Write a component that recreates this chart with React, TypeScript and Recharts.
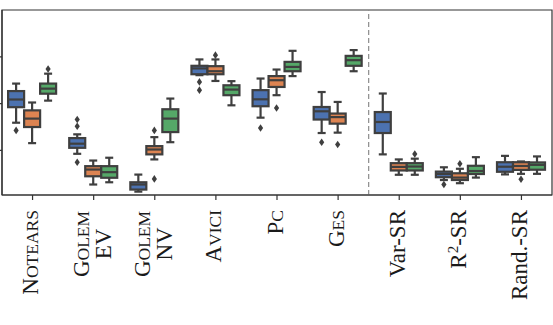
import { Bar, ComposedChart, ReferenceArea, ReferenceLine, XAxis, YAxis } from "recharts";

const methods = [
  "NOTEARS",
  "GOLEM\nEV",
  "GOLEM\nNV",
  "AVICI",
  "PC",
  "GES",
  "Var-SR",
  "R^2-SR",
  "Rand.-SR",
];

// each box: [lower whisker, q1, median, q3, upper whisker]
type Box = [number, number, number, number, number];

const blueBoxes: Box[] = [
  [0.398, 0.481, 0.522, 0.567, 0.607],
  [0.232, 0.264, 0.286, 0.316, 0.336],
  [0.03, 0.041, 0.068, 0.08, 0.121],
  [0.652, 0.657, 0.688, 0.702, 0.736],
  [0.425, 0.486, 0.523, 0.572, 0.634],
  [0.343, 0.415, 0.459, 0.482, 0.562],
  [0.229, 0.343, 0.402, 0.455, 0.554],
  [0.092, 0.107, 0.124, 0.137, 0.16],
  [0.122, 0.136, 0.163, 0.187, 0.221],
];
const blueOutliers = [[0.357], [0.415, 0.379, 0.187], [], [0.616, 0.572], [0.37], [0.294], [], [0.068], []];

const orangeBoxes: Box[] = [
  [0.289, 0.375, 0.42, 0.464, 0.506],
  [0.068, 0.112, 0.148, 0.166, 0.196],
  [0.202, 0.229, 0.255, 0.273, 0.321],
  [0.621, 0.657, 0.673, 0.7, 0.736],
  [0.545, 0.589, 0.625, 0.647, 0.682],
  [0.345, 0.393, 0.428, 0.447, 0.509],
  [0.12, 0.143, 0.162, 0.182, 0.202],
  [0.075, 0.092, 0.105, 0.128, 0.152],
  [0.125, 0.146, 0.167, 0.187, 0.191],
];
const orangeOutliers = [[], [], [0.357, 0.098], [0.759], [0.477], [0.282], [], [0.179], [0.096]];

const greenBoxes: Box[] = [
  [0.516, 0.553, 0.58, 0.607, 0.66],
  [0.08, 0.104, 0.134, 0.166, 0.211],
  [0.294, 0.348, 0.42, 0.47, 0.527],
  [0.491, 0.545, 0.575, 0.598, 0.62],
  [0.647, 0.673, 0.696, 0.723, 0.782],
  [0.673, 0.702, 0.732, 0.755, 0.786],
  [0.12, 0.143, 0.164, 0.182, 0.206],
  [0.105, 0.124, 0.14, 0.168, 0.214],
  [0.125, 0.147, 0.173, 0.186, 0.218],
];
const greenOutliers = [[0.685], [], [], [], [], [], [0.231], [], []];

const yTicks = [0.25, 0.5, 0.75];
const yDomain: [number, number] = [0.012, 1.0];

const LINE = "#3f3f3f";
const FRAME = "#333";
const FONT = "'Liberation Serif', 'DejaVu Serif', serif";
const smallCaps = new Set(["NOTEARS", "GOLEM", "AVICI", "PC", "GES"]);

const data = methods.map((name, i) => ({
  name,
  blue: [blueBoxes[i][0], blueBoxes[i][4]],
  orange: [orangeBoxes[i][0], orangeBoxes[i][4]],
  green: [greenBoxes[i][0], greenBoxes[i][4]],
}));

function makeBoxShape(boxes: Box[], outliers: number[][], fill: string) {
  return (props: any) => {
    const { x, y, width, height, index } = props;
    const [lo, q1, med, q3, hi] = boxes[index];
    // pixel position of a value, from the bar the library placed for [lo, hi]
    const k = height / (hi - lo);
    const py = (v: number) => y + (hi - v) * k;
    const cx = x + width / 2;
    const cap = width / 4;
    const sw = 2.2;
    return (
      <g>
        <line x1={cx} x2={cx} y1={py(hi)} y2={py(q3)} stroke={LINE} strokeWidth={sw} />
        <line x1={cx} x2={cx} y1={py(q1)} y2={py(lo)} stroke={LINE} strokeWidth={sw} />
        <line x1={cx - cap} x2={cx + cap} y1={py(hi)} y2={py(hi)} stroke={LINE} strokeWidth={sw} />
        <line x1={cx - cap} x2={cx + cap} y1={py(lo)} y2={py(lo)} stroke={LINE} strokeWidth={sw} />
        <rect x={x} y={py(q3)} width={width} height={py(q1) - py(q3)} fill={fill} stroke={LINE} strokeWidth={sw} />
        <line x1={x} x2={x + width} y1={py(med)} y2={py(med)} stroke={LINE} strokeWidth={sw} />
        {outliers[index].map((o, j) => {
          const oy = py(o);
          return (
            <path
              key={j}
              d={`M${cx},${oy - 3.8}L${cx + 2.6},${oy}L${cx},${oy + 3.8}L${cx - 2.6},${oy}Z`}
              fill={LINE}
            />
          );
        })}
      </g>
    );
  };
}

function renderWord(word: string, key: number) {
  if (smallCaps.has(word)) {
    return [
      <tspan key={`${key}a`} fontSize={23}>{word[0]}</tspan>,
      <tspan key={`${key}b`} fontSize={17.5}>{word.slice(1)}</tspan>,
    ];
  }
  if (word.includes("^")) {
    const [base, rest] = word.split("^");
    return [
      <tspan key={`${key}a`}>{base}</tspan>,
      <tspan key={`${key}b`} fontSize={15} dy={-8}>{rest[0]}</tspan>,
      <tspan key={`${key}c`} dy={8}>{rest.slice(1)}</tspan>,
    ];
  }
  return [<tspan key={`${key}a`}>{word}</tspan>];
}

function MethodTick({ x, y, payload }: any) {
  const lines: string[] = String(payload.value).split("\n");
  const top = y + 8;
  const style = { fontFamily: FONT, fontSize: 23, fill: "#1a1a1a" };
  if (lines.length === 1) {
    return (
      <text transform={`translate(${x + 5.5},${top}) rotate(-90)`} textAnchor="end" {...style}>
        {renderWord(lines[0], 0)}
      </text>
    );
  }
  const mid = top + 34;
  return (
    <g>
      {lines.map((line, i) => (
        <text
          key={i}
          transform={`translate(${x - 5 + 22 * i},${mid}) rotate(-90)`}
          textAnchor="middle"
          {...style}
        >
          {renderWord(line, i)}
        </text>
      ))}
    </g>
  );
}

export default function App() {
  return (
    <div style={{ width: 553, height: 325, background: "#fff" }}>
      <style>{`body{margin:0}`}</style>
      <ComposedChart
        width={553}
        height={325}
        data={data}
        margin={{ top: 10, right: 1, left: 0, bottom: 0 }}
        barCategoryGap="10%"
        barGap={0}
      >
        <XAxis
          dataKey="name"
          type="category"
          height={130}
          interval={0}
          tickSize={5}
          tickMargin={2}
          tick={<MethodTick />}
          axisLine={{ stroke: FRAME, strokeWidth: 1.2 }}
          tickLine={{ stroke: FRAME, strokeWidth: 1.2 }}
        />
        <YAxis
          type="number"
          domain={yDomain}
          ticks={yTicks}
          width={2}
          tickSize={6}
          tickFormatter={() => ""}
          allowDataOverflow
          axisLine={{ stroke: FRAME, strokeWidth: 1.2 }}
          tickLine={{ stroke: FRAME, strokeWidth: 1.2 }}
        />
        <ReferenceArea
          y1={yDomain[0]}
          y2={yDomain[1]}
          fill="none"
          fillOpacity={0}
          stroke={FRAME}
          strokeWidth={1.2}
          ifOverflow="extendDomain"
        />
        <ReferenceLine
          x="GES"
          position="end"
          stroke="#8c8c8c"
          strokeWidth={1.2}
          strokeDasharray="5 3"
        />
        <Bar dataKey="blue" fill="#4c72b0" isAnimationActive={false} shape={makeBoxShape(blueBoxes, blueOutliers, "#4c72b0")} />
        <Bar dataKey="orange" fill="#dd8452" isAnimationActive={false} shape={makeBoxShape(orangeBoxes, orangeOutliers, "#dd8452")} />
        <Bar dataKey="green" fill="#55a868" isAnimationActive={false} shape={makeBoxShape(greenBoxes, greenOutliers, "#55a868")} />
      </ComposedChart>
    </div>
  );
}
